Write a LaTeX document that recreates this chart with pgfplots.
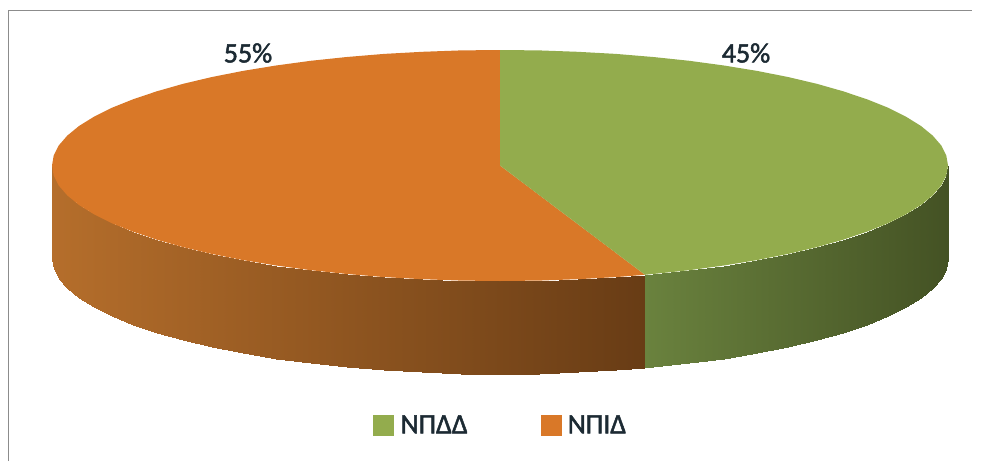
\documentclass[border=0pt]{standalone}
\usepackage{fontspec}
\setmainfont{Carlito}
\usepackage{pgfplots}
\pgfplotsset{compat=1.18}

\definecolor{topgreen}{HTML}{93AC4D}
\definecolor{toporange}{HTML}{D97828}
\definecolor{framegray}{HTML}{8C8C8C}
\definecolor{labeltext}{HTML}{1C2A33}
\newfontface\heavy{Carlito}[FakeBold=1.8]

\pgfplotsset{
  colormap={sideorange}{rgb255=(181,110,43) rgb255=(104,60,21)},
  colormap={sidegreen}{rgb255=(106,130,62) rgb255=(68,82,36)},
}

\begin{document}
\begin{tikzpicture}
\path[use as bounding box] (0,0) rectangle (983pt,461pt);
\begin{axis}[
    at={(0,0)}, anchor=south west,
    scale only axis,
    width=983pt,
    height=461pt,
    xmin=0, xmax=983,
    ymin=0, ymax=461,
    y dir=reverse,
    axis lines=none,
    clip=false,
    legend columns=2,
    legend cell align=left,
    legend style={
        at={(0.5095,0.078)}, anchor=center,
        draw=none, fill=none,
        font=\fontsize{28}{32}\selectfont\heavy\color{labeltext},
        /tikz/every even column/.append style={column sep=71pt},
    },
]
% frame
\addplot[framegray, line width=1pt, forget plot] coordinates {(8,461) (8,10) (972,10)};

% side of the disc, orange part
\addplot[surf, shader=interp, colormap name=sideorange, mesh/rows=2, point meta=x,
    point meta rel=per plot, forget plot] coordinates {
(52,165.5) (53.7,175.6) (58.8,185.6) (67.3,195.4) (79,205) (94,214.3) (112,223.3) (133,231.7)
(156.8,239.7) (183.2,247.2) (212,254) (243,260.1) (276,265.5) (310.7,270.2) (346.8,274)
(384.1,277.1) (422.2,279.2) (460.9,280.6) (500,281) (539.1,280.6) (577.8,279.2) (615.9,277.1) (645,274.8)

(52,258.5) (53.7,268.6) (58.8,278.6) (67.3,288.4) (79,298) (94,307.3) (112,316.3) (133,324.7)
(156.8,332.7) (183.2,340.2) (212,347) (243,353.1) (276,358.5) (310.7,363.2) (346.8,367)
(384.1,370.1) (422.2,372.2) (460.9,373.6) (500,374) (539.1,373.6) (577.8,372.2) (615.9,370.1) (645,367.8)
};

% side of the disc, green part
\addplot[surf, shader=interp, colormap name=sidegreen, mesh/rows=2, point meta=x,
    point meta rel=per plot, forget plot] coordinates {
(645,274.8) (653.2,274) (689.3,270.2) (724,265.5) (757,260.1) (788,254) (816.8,247.2) (843.2,239.7)
(867,231.7) (888,223.3) (906,214.3) (921,205) (932.7,195.4) (941.2,185.6) (946.3,175.6) (948,165.5)

(645,367.8) (653.2,367) (689.3,363.2) (724,358.5) (757,353.1) (788,347) (816.8,340.2) (843.2,332.7)
(867,324.7) (888,316.3) (906,307.3) (921,298) (932.7,288.4) (941.2,278.6) (946.3,268.6) (948,258.5)
};

% top, 55%
\addplot[fill=toporange, draw=none, forget plot] coordinates {
(500,165.5) (500,50) (460.9,50.4) (422.2,51.8) (384.1,53.9) (346.8,57) (310.7,60.8) (276,65.5)
(243,70.9) (212,77) (183.2,83.8) (156.8,91.3) (133,99.3) (112,107.7) (94,116.7) (79,126)
(67.3,135.6) (58.8,145.4) (53.7,155.4) (52,165.5) (53.7,175.6) (58.8,185.6) (67.3,195.4) (79,205)
(94,214.3) (112,223.3) (133,231.7) (156.8,239.7) (183.2,247.2) (212,254) (243,260.1) (276,265.5)
(310.7,270.2) (346.8,274) (384.1,277.1) (422.2,279.2) (460.9,280.6) (500,281) (539.1,280.6)
(577.8,279.2) (615.9,277.1) (645,274.8)
} -- cycle;

% top, 45%
\addplot[fill=topgreen, draw=none, forget plot] coordinates {
(500,165.5) (500,50) (539.1,50.4) (577.8,51.8) (615.9,53.9) (653.2,57) (689.3,60.8) (724,65.5)
(757,70.9) (788,77) (816.8,83.8) (843.2,91.3) (867,99.3) (888,107.7) (906,116.7) (921,126)
(932.7,135.6) (941.2,145.4) (946.3,155.4) (948,165.5) (946.3,175.6) (941.2,185.6) (932.7,195.4)
(921,205) (906,214.3) (888,223.3) (867,231.7) (843.2,239.7) (816.8,247.2) (788,254) (757,260.1)
(724,265.5) (689.3,270.2) (653.2,274) (645,274.8)
} -- cycle;

\node[font=\fontsize{28}{32}\selectfont\heavy, text=labeltext, inner sep=0pt] at (axis cs:248,53) {55\%};
\node[font=\fontsize{28}{32}\selectfont\heavy, text=labeltext, inner sep=0pt] at (axis cs:746,53) {45\%};

\addlegendimage{only marks, mark=square*, mark size=10pt, color=topgreen}
\addlegendentry{\hspace{5pt}ΝΠΔΔ}
\addlegendimage{only marks, mark=square*, mark size=10pt, color=toporange}
\addlegendentry{\hspace{5pt}ΝΠΙΔ}
\end{axis}
\end{tikzpicture}
\end{document}
